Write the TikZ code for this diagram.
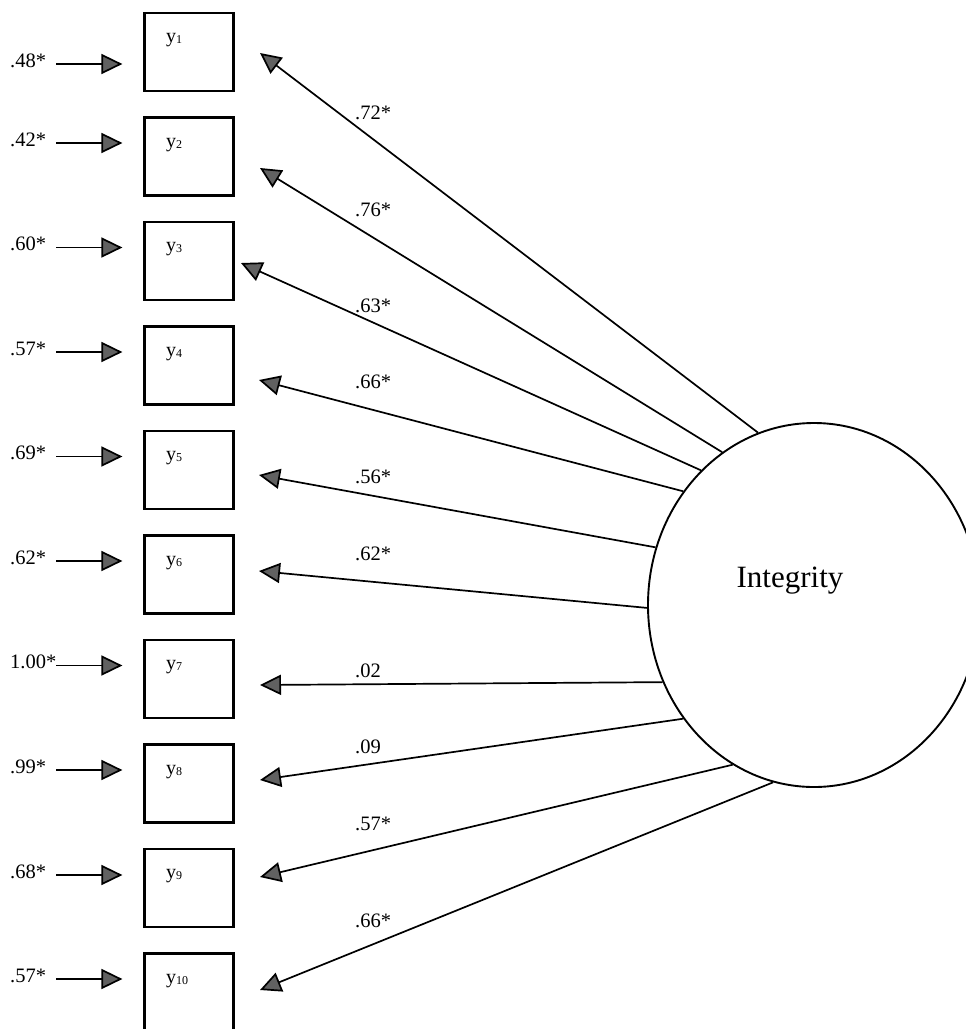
\documentclass[tikz,border=0pt]{standalone}
\usepackage{fontspec}
\setmainfont{Liberation Serif}
\usetikzlibrary{arrows.meta,shapes.geometric}
\begin{document}
\begin{tikzpicture}[x=1pt,y=-1pt,
  indicator/.style={draw, line width=2.2pt, minimum width=89pt, minimum height=78pt, inner sep=0pt},
  latent/.style={draw, ellipse, line width=1.9pt, minimum width=332pt, minimum height=364pt, inner sep=0pt},
  varname/.style={anchor=base west, inner sep=0pt, font=\fontsize{20}{24}\selectfont},
  coef/.style={anchor=base west, inner sep=0pt, font=\fontsize{20.5}{24}\selectfont},
  headtip/.style={-{Triangle[length=21pt,width=20pt,fill=black!62]}},
  errarrow/.style={headtip, line width=1.7pt, shorten >=21pt},
  loading/.style={headtip, line width=1.7pt}]

\useasboundingbox (0,0) rectangle (966,1029);
\clip (0,0) rectangle (966,1029);

% observed indicators y1 ... y10
\foreach \i in {1,...,10} {
  \pgfmathsetmacro\cy{52+104.5*(\i-1)}
  \node[indicator] (y\i) at (189,\cy) {};
  \node[varname] (n\i) at (166,\cy-9.3) {y{\fontsize{12}{12}\selectfont\raisebox{-1pt}{\i}}};
}

% error variances with their arrows
\foreach \v/\ay [count=\i] in {.48*/64, .42*/143, .60*/247.5, .57*/352, .69*/456.5,
                               .62*/561, 1.00*/665.5, .99*/770, .68*/875, .57*/979} {
  \node[coef] (e\i) at (10,\ay+3) {\v};
  \coordinate (u\i) at (56,\ay);
  \draw[errarrow] (u\i) -- (u\i -| y\i.west);
}

% latent factor
\node[latent] (integ) at (814,605) {};
\node[anchor=base, inner sep=0pt, font=\fontsize{31}{36}\selectfont] (integname) at (790,587) {Integrity};

% factor loadings
\foreach \ang/\tx/\ty [count=\i] in {108.9/260/53, 121.7/260/168, 130.8/241/263, 139.7/259/380,
                                     160.1/259/475, 181/259/571, 207.5/260/685, 221.8/260/780,
                                     243.9/260/877, 257.6/260/990} {
  \coordinate (t\i) at (\tx,\ty);
  \draw[loading] (integ.\ang) -- (t\i);
}

\foreach \v/\by [count=\i] in {.72*/119, .76*/216, .63*/312, .66*/388, .56*/483,
                               .62*/560, .02/677, .09/753, .57*/830, .66*/927} {
  \node[coef] (c\i) at (355,\by) {\v};
}
\end{tikzpicture}
\end{document}
